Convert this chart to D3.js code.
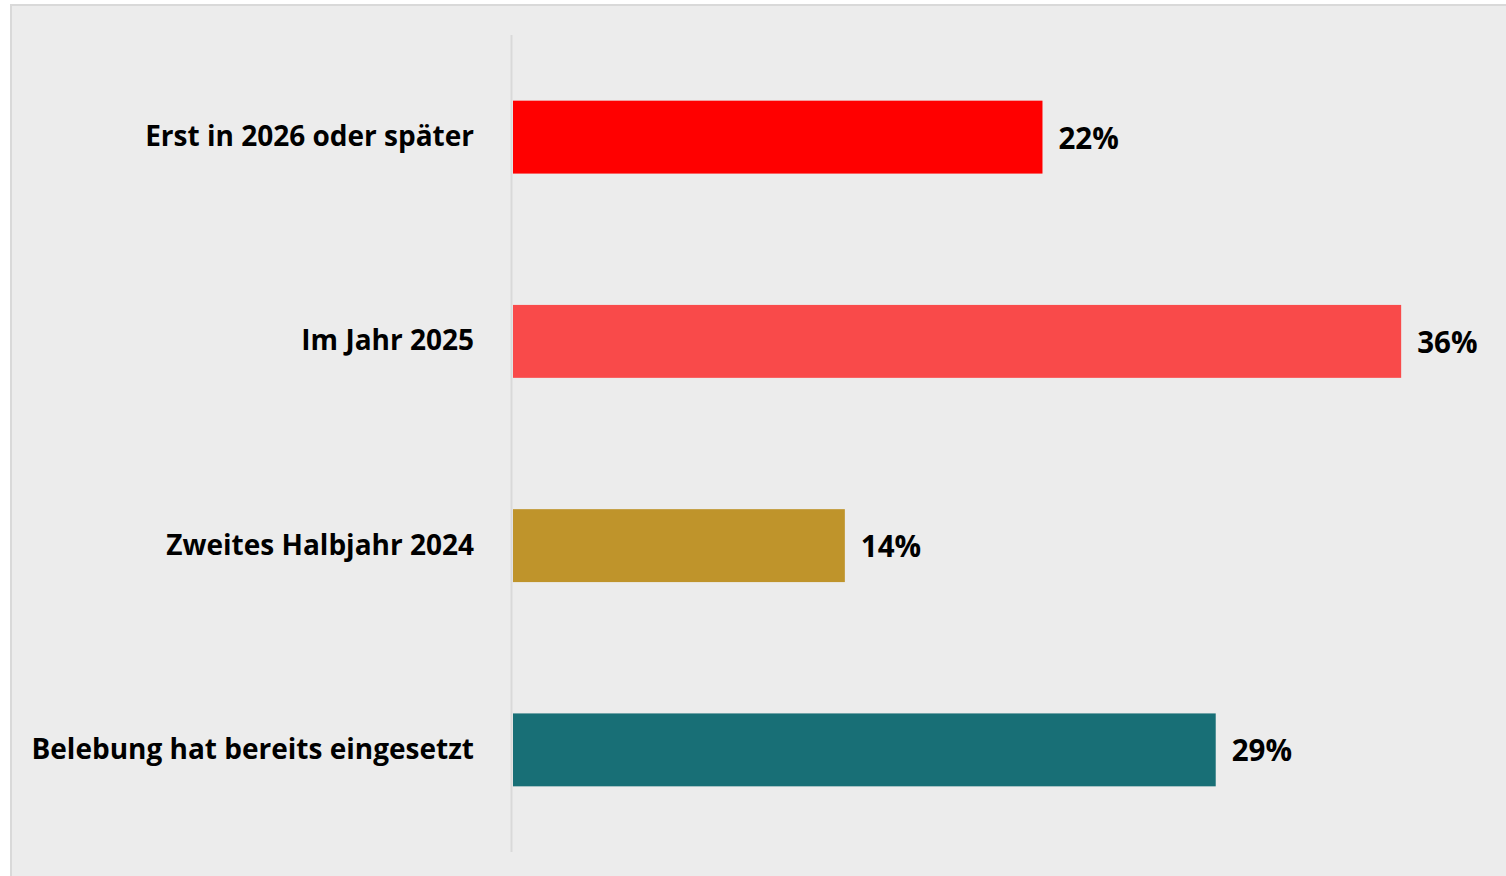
<!DOCTYPE html>
<html><head><meta charset="utf-8">
<script src="https://cdn.jsdelivr.net/npm/d3@7/dist/d3.min.js"></script>
<style>html,body{margin:0;padding:0;background:#fff;overflow:hidden}</style>
</head><body>
<script>
const categories = ["Erst in 2026 oder später", "Im Jahr 2025", "Zweites Halbjahr 2024", "Belebung hat bereits eingesetzt"];
const values = [21.7, 36.4, 13.6, 28.8];
const colors = ["#ff0000", "#f94a4a", "#bf942b", "#186f76"];

const W = 1506, H = 876;
const svg = d3.select("body").append("svg").attr("width", W).attr("height", H);

svg.append("rect").attr("x", 11).attr("y", 5).attr("width", W + 20).attr("height", H + 20)
  .attr("fill", "#ececec").attr("stroke", "#d9d9d9").attr("stroke-width", 2);

const x = d3.scaleLinear().domain([0, 40]).range([513, 1489]);
const y = d3.scaleBand().domain(categories).range([35, 852]).paddingInner(0.643).paddingOuter(0.3215);

svg.append("line").attr("x1", 511.5).attr("x2", 511.5).attr("y1", 35).attr("y2", 852)
  .attr("stroke", "#d9d9d9").attr("stroke-width", 2);

svg.selectAll("rect.bar").data(categories).join("rect").attr("class", "bar")
  .attr("x", x(0)).attr("y", d => y(d))
  .attr("width", (d, i) => x(values[i]) - x(0)).attr("height", y.bandwidth())
  .attr("fill", (d, i) => colors[i]);

const font = "'Source Sans Pro', 'Open Sans', sans-serif";
svg.selectAll("text.cat").data(categories).join("text").attr("class", "cat")
  .attr("x", 474).attr("y", d => y(d) + y.bandwidth() / 2 + 9)
  .attr("text-anchor", "end").attr("font-family", font).attr("font-weight", 700)
  .attr("font-size", 28).attr("fill", "#000").text(d => d);

svg.selectAll("text.val").data(categories).join("text").attr("class", "val")
  .attr("x", (d, i) => x(values[i]) + 16).attr("y", d => y(d) + y.bandwidth() / 2 + 11.5)
  .attr("font-family", font).attr("font-weight", 700)
  .attr("font-size", 29.5).attr("fill", "#000").text((d, i) => Math.round(values[i]) + "%");
</script>
</body></html>
